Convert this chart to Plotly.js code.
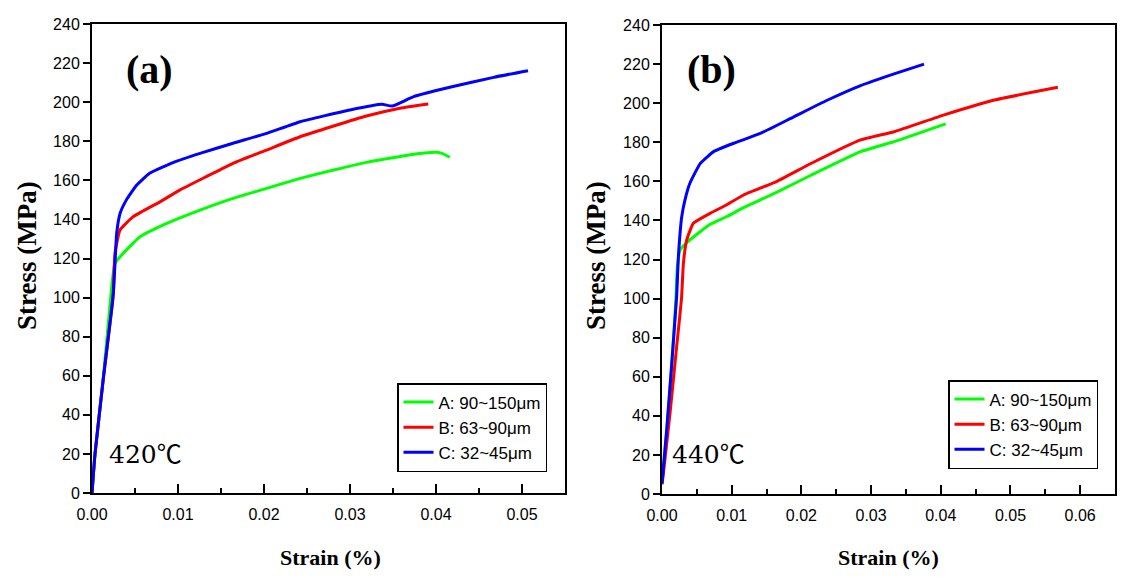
<!DOCTYPE html>
<html>
<head>
<meta charset="utf-8">
<script src="https://cdn.plot.ly/plotly-3.0.1.min.js"></script>
<style>html,body{margin:0;padding:0;background:#fff;}#chart{width:1122px;height:578px;}</style>
</head>
<body>
<div id="chart"></div>
<script>
// ---- Panel (a) 420°C ----
const seriesNames = ["A: 90~150μm", "B: 63~90μm", "C: 32~45μm"];

const a_A_strain = [0, 0.00035, 0.0013, 0.00229, 0.00267, 0.00364, 0.0056, 0.0087, 0.01256, 0.0164, 0.0203, 0.0242, 0.0281, 0.0319, 0.0376, 0.0401, 0.0407, 0.0416];
const a_A_stress = [0, 20, 58, 105.6, 117.5, 122.7, 131.2, 138, 144.8, 150.8, 155.9, 161, 165.3, 169.2, 173.5, 174.4, 173.8, 171.8];

const a_B_strain = [0, 0.00035, 0.0013, 0.00244, 0.00267, 0.00326, 0.0048, 0.0079, 0.0102, 0.0133, 0.0164, 0.0203, 0.0242, 0.0281, 0.0319, 0.0358, 0.0391];
const a_B_stress = [0, 20, 58, 100, 122.7, 134.6, 141.4, 149, 155, 161.9, 168.7, 175.5, 182.3, 187.8, 192.9, 196.9, 199.1];

const a_C_strain = [0, 0.00035, 0.0013, 0.00248, 0.00287, 0.00326, 0.0040, 0.0052, 0.0067, 0.0095, 0.01256, 0.0164, 0.0203, 0.0242, 0.0300, 0.0337, 0.0349, 0.0374, 0.0416, 0.0467, 0.0507];
const a_C_stress = [0, 20, 58, 102, 132.9, 143, 150, 157.6, 163.6, 169.2, 173.8, 179, 184, 190, 196, 198.9, 198, 202.8, 207.6, 212.7, 216.1];

// ---- Panel (b) 440°C ----
const b_A_strain = [0, 0.00067, 0.0014, 0.0020, 0.0022, 0.0026, 0.0040, 0.0069, 0.0093, 0.0117, 0.0165, 0.0213, 0.0285, 0.0333, 0.0407];
const b_A_stress = [5, 32, 66, 100, 116.3, 124.9, 130, 138, 142, 146.5, 154.5, 163, 175.2, 180.3, 189.4];

const b_B_strain = [0, 0.0002, 0.00115, 0.0021, 0.0028, 0.00307, 0.00355, 0.0045, 0.0069, 0.0093, 0.0117, 0.0165, 0.0213, 0.0285, 0.0333, 0.0405, 0.0477, 0.0568];
const b_B_stress = [5, 10.6, 41.3, 75.4, 100, 118, 130, 138.5, 143.6, 148, 153, 160, 169, 181.2, 185.4, 194, 201.6, 208.1];

const b_C_strain = [0, 0.00067, 0.0014, 0.0021, 0.00235, 0.00283, 0.0033, 0.0040, 0.0055, 0.0074, 0.0103, 0.0141, 0.0189, 0.0237, 0.0285, 0.0333, 0.0376];
const b_C_stress = [5.5, 32.7, 66.9, 101, 121.4, 141.9, 150.5, 159, 169.2, 175.2, 179.5, 184.5, 193, 201.5, 209, 215, 220];

const colors = ["#00ff00", "#ff0000", "#0000ff"];
const xTicksA = [0, 0.01, 0.02, 0.03, 0.04, 0.05];
const xTicksB = [0, 0.01, 0.02, 0.03, 0.04, 0.05, 0.06];
const yTicks = [0, 20, 40, 60, 80, 100, 120, 140, 160, 180, 200, 220, 240];

const W = 1122, H = 578;
const px = v => v / W;
const py = v => 1 - v / H;

function tr(x, y, i, xa, ya, leg) {
  return {x: x, y: y, type: "scatter", mode: "lines", name: seriesNames[i],
    line: {color: colors[i], width: 3, shape: "spline", smoothing: 0.4}, xaxis: xa, yaxis: ya, legend: leg};
}

const data = [
  tr(a_A_strain, a_A_stress, 0, "x", "y", "legend"),
  tr(a_B_strain, a_B_stress, 1, "x", "y", "legend"),
  tr(a_C_strain, a_C_stress, 2, "x", "y", "legend"),
  tr(b_A_strain, b_A_stress, 0, "x2", "y2", "legend2"),
  tr(b_B_strain, b_B_stress, 1, "x2", "y2", "legend2"),
  tr(b_C_strain, b_C_stress, 2, "x2", "y2", "legend2")
];

const tickFont = {family: "Liberation Sans, Arial, sans-serif", size: 16, color: "#000"};
function xax(domain, range, ticks, anchor) {
  return {domain: domain, range: range, anchor: anchor, tickvals: ticks,
    ticktext: ticks.map(v => v.toFixed(2)), ticks: "inside", ticklen: 9, tickwidth: 2, tickcolor: "#000",
    minor: {tickvals: ticks.map(v => v + 0.005), ticks: "inside", ticklen: 5, tickwidth: 2, tickcolor: "#000"},
    showline: true, mirror: true, linewidth: 2, linecolor: "#000", showgrid: false, zeroline: false,
    tickfont: tickFont, ticklabelstandoff: 6, fixedrange: true};
}
function yax(domain, anchor) {
  return {domain: domain, range: [0, 240], anchor: anchor, tickvals: yTicks,
    ticks: "outside", ticklen: 7, tickwidth: 2, tickcolor: "#000",
    showline: true, mirror: true, linewidth: 2, linecolor: "#000", showgrid: false, zeroline: false,
    tickfont: tickFont, ticklabelstandoff: 0, fixedrange: true};
}

const serifBold = {family: "Liberation Serif, Times New Roman, serif", color: "#000", weight: "bold"};
const serifReg = {family: "DejaVu Serif", size: 25, color: "#000", weight: 400};
const legendStyle = {bgcolor: "#fff", bordercolor: "#000", borderwidth: 1.5,
  font: {family: "Liberation Sans, Arial, sans-serif", size: 17, color: "#000"},
  xanchor: "left", yanchor: "bottom", tracegroupgap: 0};

const degC = "<span style='font-family:\"Noto Sans CJK SC\"'>℃</span>";

const layout = {
  width: W, height: H, margin: {l: 0, r: 0, t: 0, b: 0},
  paper_bgcolor: "#fff", plot_bgcolor: "#fff", showlegend: true,
  xaxis: xax([px(92), px(565)], [0, 0.055], xTicksA, "y"),
  yaxis: yax([py(493), py(24)], "x"),
  xaxis2: xax([px(662), px(1115)], [0, 0.065], xTicksB, "y2"),
  yaxis2: yax([py(494), py(25)], "x2"),
  legend: Object.assign({x: px(397), y: py(472)}, legendStyle),
  legend2: Object.assign({x: px(948), y: py(469)}, legendStyle),
  annotations: [
    {text: "(a)", xref: "paper", yref: "paper", x: px(149), y: py(70), showarrow: false,
      font: Object.assign({}, serifBold, {size: 40}), xanchor: "center", yanchor: "middle"},
    {text: "(b)", xref: "paper", yref: "paper", x: px(711), y: py(70), showarrow: false,
      font: Object.assign({}, serifBold, {size: 40}), xanchor: "center", yanchor: "middle"},
    {text: "420" + degC, xref: "paper", yref: "paper", x: px(145), y: py(452), showarrow: false,
      font: serifReg, xanchor: "center", yanchor: "middle"},
    {text: "440" + degC, xref: "paper", yref: "paper", x: px(708), y: py(452), showarrow: false,
      font: serifReg, xanchor: "center", yanchor: "middle"},
    {text: "Stress (MPa)", xref: "paper", yref: "paper", x: px(27), y: py(256), textangle: -90, showarrow: false,
      font: Object.assign({}, serifBold, {size: 27}), xanchor: "center", yanchor: "middle"},
    {text: "Stress (MPa)", xref: "paper", yref: "paper", x: px(596), y: py(256), textangle: -90, showarrow: false,
      font: Object.assign({}, serifBold, {size: 27}), xanchor: "center", yanchor: "middle"},
    {text: "Strain (%)", xref: "paper", yref: "paper", x: px(330), y: py(557), showarrow: false,
      font: Object.assign({}, serifBold, {size: 22}), xanchor: "center", yanchor: "middle"},
    {text: "Strain (%)", xref: "paper", yref: "paper", x: px(888), y: py(557), showarrow: false,
      font: Object.assign({}, serifBold, {size: 22}), xanchor: "center", yanchor: "middle"}
  ]
};

Plotly.newPlot("chart", data, layout, {displayModeBar: false, staticPlot: true});
</script>
</body>
</html>
